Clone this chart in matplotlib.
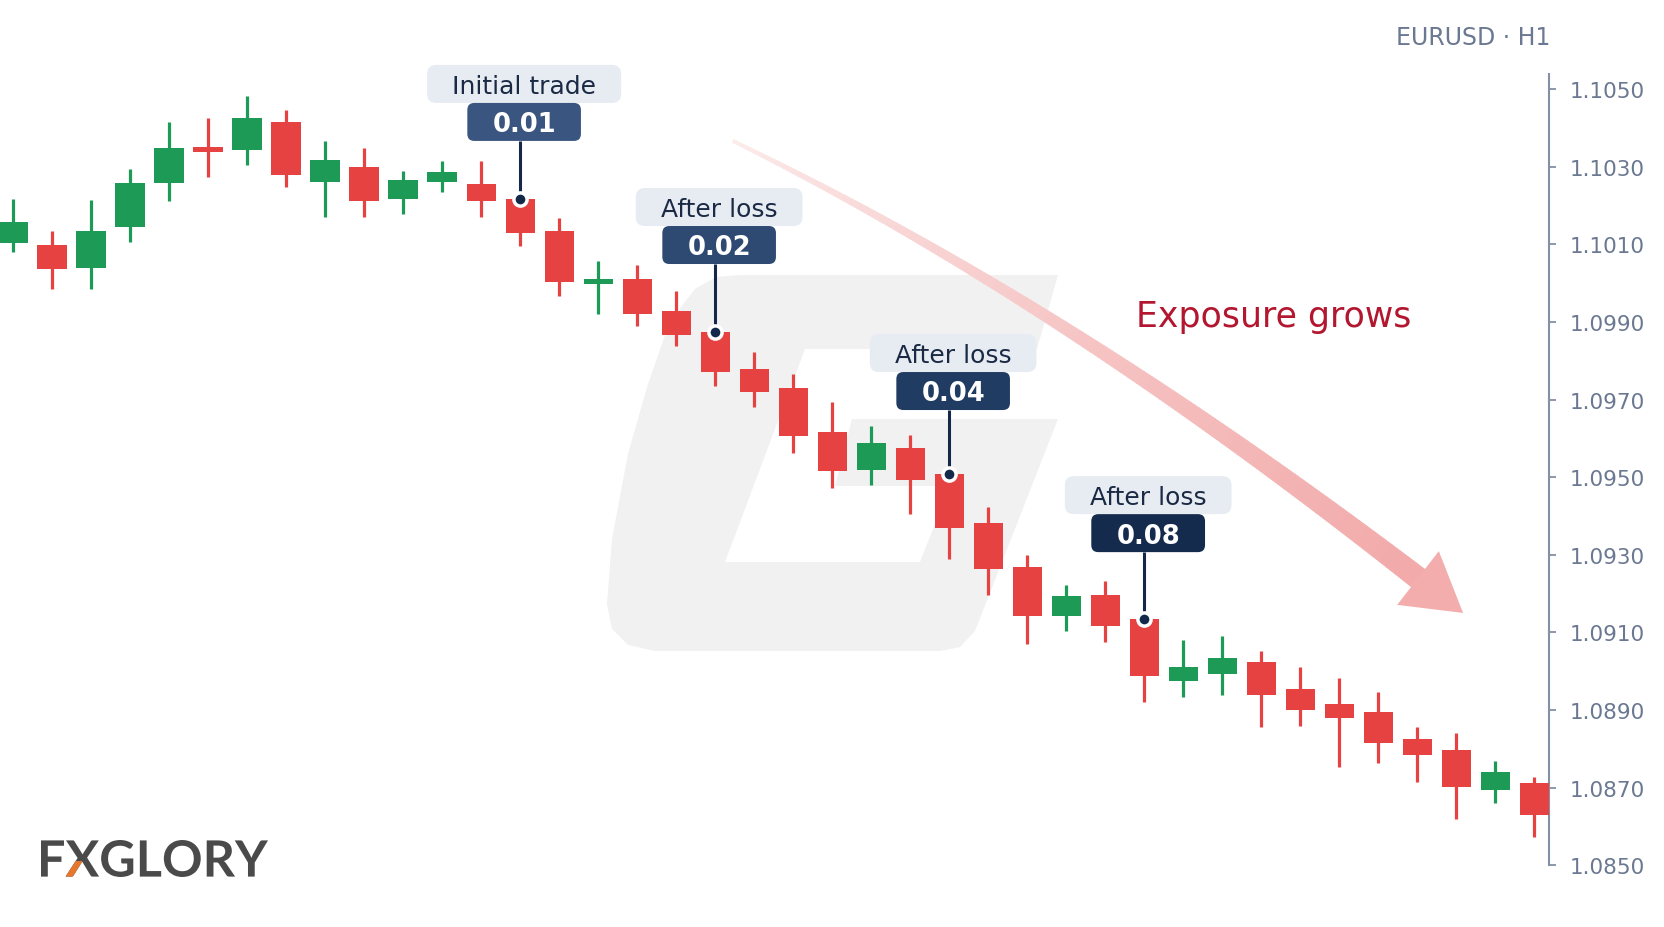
import numpy as np
import matplotlib
matplotlib.use('Agg')
import matplotlib.pyplot as plt
from matplotlib.patches import Polygon, FancyBboxPatch, PathPatch, Rectangle
from matplotlib.collections import PolyCollection
from matplotlib.transforms import IdentityTransform, Affine2D
from matplotlib.textpath import TextPath
from matplotlib.font_manager import FontProperties
from matplotlib.colors import to_rgb

# ---- data (EURUSD H1) ----
symbol = "EURUSD · H1"
opens = [1.10103, 1.10098, 1.10039, 1.10144, 1.10258, 1.10351, 1.10343, 1.10415,
         1.10260, 1.10299, 1.10217, 1.10260, 1.10255, 1.10217, 1.10134, 1.09997,
         1.10010, 1.09928, 1.09874, 1.09778, 1.09729, 1.09616, 1.09518, 1.09575,
         1.09508, 1.09381, 1.09268, 1.09142, 1.09196, 1.09134, 1.08974, 1.08992,
         1.09023, 1.08954, 1.08915, 1.08894, 1.08825, 1.08796, 1.08693, 1.08711]
highs = [1.10217, 1.10134, 1.10214, 1.10294, 1.10415, 1.10425, 1.10482, 1.10446,
         1.10366, 1.10348, 1.10289, 1.10314, 1.10314, 1.10219, 1.10168, 1.10057,
         1.10046, 1.09979, 1.09879, 1.09822, 1.09765, 1.09693, 1.09631, 1.09608,
         1.09513, 1.09423, 1.09299, 1.09222, 1.09232, 1.09139, 1.09080, 1.09090,
         1.09052, 1.09010, 1.08982, 1.08946, 1.08856, 1.08840, 1.08768, 1.08727]
lows = [1.10080, 1.09985, 1.09985, 1.10106, 1.10211, 1.10273, 1.10304, 1.10247,
        1.10170, 1.10170, 1.10178, 1.10235, 1.10170, 1.10095, 1.09967, 1.09920,
        1.09889, 1.09838, 1.09735, 1.09680, 1.09562, 1.09472, 1.09479, 1.09405,
        1.09289, 1.09196, 1.09070, 1.09103, 1.09075, 1.08920, 1.08933, 1.08938,
        1.08856, 1.08858, 1.08753, 1.08763, 1.08714, 1.08619, 1.08660, 1.08572]
closes = [1.10157, 1.10036, 1.10134, 1.10258, 1.10348, 1.10338, 1.10425, 1.10278,
          1.10317, 1.10211, 1.10265, 1.10286, 1.10211, 1.10129, 1.10003, 1.10010,
          1.09920, 1.09866, 1.09771, 1.09719, 1.09606, 1.09515, 1.09588, 1.09492,
          1.09369, 1.09263, 1.09142, 1.09193, 1.09116, 1.08987, 1.09010, 1.09034,
          1.08938, 1.08900, 1.08879, 1.08814, 1.08784, 1.08701, 1.08740, 1.08629]

trade_bars = [13, 18, 24, 29]
trade_titles = ["Initial trade", "After loss", "After loss", "After loss"]
trade_lots = ["0.01", "0.02", "0.04", "0.08"]

price_ticks = [1.0850, 1.0870, 1.0890, 1.0910, 1.0930, 1.0950, 1.0970, 1.0990, 1.1010, 1.1030, 1.1050]
arrow_text = "Exposure grows"
brand = "FXGLORY"

# ---- styling ----
W, H = 1664, 928
RED = "#e64242"
GREEN = "#1d9a55"
NAVY = "#14284a"
AXIS = "#8390a5"
LABEL = "#6b7891"
lot_colors = ["#3a5680", "#2e4a73", "#213c63", "#152b4e"]
stems = [58, 68, 64, 67]  # pixel length of the callout stems

plt.rcParams["font.family"] = ["DejaVu Sans"]

fig = plt.figure(figsize=(W / 100, H / 100), dpi=100, facecolor="white")
ax = fig.add_axes([0, 58 / H, 1549 / W, 795 / H])
ax.set_facecolor("none")
ax.set_xlim(-0.336, 39.38)
ax.set_ylim(1.08490, 1.10539)


def px(x, y):
    # reference pixel (top-left origin) -> display coords
    return (x, H - y)


# watermark "G"
g_pts = [(740, 276), (1058, 276), (1037, 350), (805, 350), (725, 563), (920, 563),
         (950, 487), (835, 487), (852, 420), (1058, 420), (975, 632), (960, 648),
         (940, 652), (655, 652), (628, 646), (612, 630), (607, 605), (612, 540),
         (628, 455), (648, 385), (670, 322), (695, 290), (716, 278)]
fig.add_artist(Polygon([px(*p) for p in g_pts], closed=True, fc="#f1f1f1", ec="none",
                       transform=IdentityTransform(), zorder=-5))

# big fading arrow
P0, P1, P2 = np.array([733, 142.]), np.array([1058, 300.]), np.array([1418, 579.])
t = np.linspace(0, 1, 90)[:, None]
B = (1 - t) ** 2 * P0 + 2 * (1 - t) * t * P1 + t ** 2 * P2
dB = 2 * (1 - t) * (P1 - P0) + 2 * t * (P2 - P1)
nrm = np.column_stack([-dB[:, 1], dB[:, 0]]) / np.linalg.norm(dB, axis=1)[:, None]
hw = 1.5 + 9.5 * t ** 1.1
left, right = B + nrm * hw, B - nrm * hw
c0, c1 = np.array(to_rgb("#fcecec")), np.array(to_rgb("#f2a9a9"))
quads, cols = [], []
for i in range(len(t) - 1):
    q = [left[i], left[i + 1], right[i + 1], right[i]]
    quads.append([px(*p) for p in q])
    cols.append(c0 + (c1 - c0) * float(t[i, 0]) ** 0.8)
fig.add_artist(PolyCollection(quads, facecolors=cols, edgecolors=cols, linewidths=0.6,
                              transform=IdentityTransform(), zorder=-4))
d = (P2 - P1) / np.linalg.norm(P2 - P1)
n2 = np.array([-d[1], d[0]])
head = [P2 + n2 * 34, P2 + d * 57, P2 - n2 * 34]
fig.add_artist(Polygon([px(*p) for p in head], closed=True, fc="#f3adad", ec="none",
                       transform=IdentityTransform(), zorder=-4))

# candles
x = np.arange(len(opens))
o, h, l, c = map(np.array, (opens, highs, lows, closes))
up = c >= o
colors = np.where(up, GREEN, RED)
ax.vlines(x, l, h, colors=colors, lw=2.3, zorder=2)
ax.bar(x, np.maximum(np.abs(c - o), 0.00004), bottom=np.minimum(o, c), width=0.75,
       color=colors, zorder=3)

# axis
for s in ["left", "top", "bottom"]:
    ax.spines[s].set_visible(False)
ax.spines["right"].set_color(AXIS)
ax.spines["right"].set_linewidth(1.5)
ax.spines["right"].set_bounds(price_ticks[0], ax.get_ylim()[1])
ax.set_xticks([])
ax.yaxis.tick_right()
ax.set_yticks(price_ticks)
ax.set_yticklabels([f"{v:.4f}" for v in price_ticks])
ax.tick_params(axis="y", direction="out", length=5, width=1.3, color=AXIS,
               labelcolor=LABEL, labelsize=15.5, pad=10)

fig.text(1473, H - 45, symbol, transform=IdentityTransform(), ha="center", va="baseline",
         fontsize=17, color=LABEL)

# trade annotations
renderer = fig.canvas.get_renderer()
for i, title, lot, col, stem in zip(trade_bars, trade_titles, trade_lots, lot_colors, stems):
    mx, my = ax.transData.transform((i, opens[i]))
    cx = mx + 4
    # connector
    ax.plot([i, i], [opens[i], ax.transData.inverted().transform((mx, my + stem))[1]],
            color=NAVY, lw=2.2, zorder=4, solid_capstyle="butt", clip_on=False)
    ax.plot(i, opens[i], "o", ms=9.5, mfc=NAVY, mec="white", mew=2.5, zorder=6, clip_on=False)
    # number box
    ncy = my + stem + 19
    tn = fig.text(cx, ncy - 9.4, lot, transform=IdentityTransform(), ha="center",
                  va="baseline", fontsize=18.5, fontweight="bold", color="white", zorder=8)
    bw = tn.get_window_extent(renderer).width + 50
    fig.add_artist(FancyBboxPatch((cx - bw / 2, ncy - 19), bw, 38,
                                  boxstyle="round,pad=0,rounding_size=7", fc=col, ec="none",
                                  transform=IdentityTransform(), zorder=7))
    # title box
    tcy = ncy + 38
    tt = fig.text(cx, tcy - 9, title, transform=IdentityTransform(), ha="center",
                  va="baseline", fontsize=18, color="#1b2a44", zorder=6)
    tw = tt.get_window_extent(renderer).width + 50
    fig.add_artist(FancyBboxPatch((cx - tw / 2, tcy - 19), tw, 38,
                                  boxstyle="round,pad=0,rounding_size=9", fc="#e7ecf3", ec="none",
                                  transform=IdentityTransform(), zorder=5))

fig.text(1274, H - 327, arrow_text, transform=IdentityTransform(), ha="center",
         va="baseline", fontsize=25, color="#b3162f")

# brand logo
fp = FontProperties(family="Lato", weight="bold")
tp = TextPath((0, 0), brand, size=50, prop=fp)
ext = tp.get_extents()
sx, sy = 227 / ext.width, 37 / ext.height
logo_tr = Affine2D().translate(-ext.x0, -ext.y0).scale(sx, sy).translate(41, H - 878)
fig.add_artist(PathPatch(tp, fc="#4a4a4a", ec="none", transform=logo_tr, zorder=3))
fx_right = TextPath((0, 0), brand[:2], size=50, prop=fp).get_extents().x1
x_w = TextPath((0, 0), brand[1], size=50, prop=fp).get_extents().width
clip = Rectangle((fx_right - x_w, ext.y0 - 1), x_w * 0.48, ext.height * 0.45, transform=logo_tr)
orange = PathPatch(tp, fc="#e8772e", ec="none", transform=logo_tr, zorder=4)
fig.add_artist(orange)
orange.set_clip_path(clip)

fig.savefig("out.png", dpi=100, facecolor="white")
